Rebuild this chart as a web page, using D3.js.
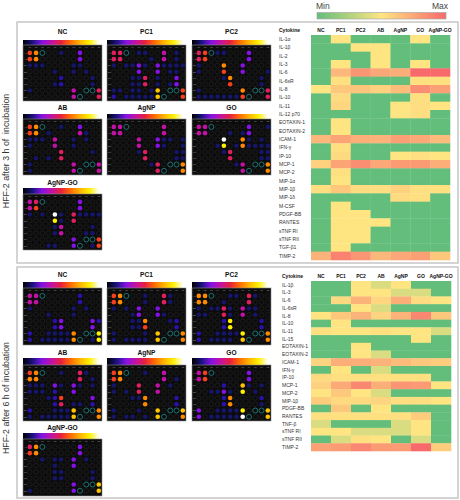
<!DOCTYPE html>
<html><head><meta charset="utf-8">
<script src="https://cdn.jsdelivr.net/npm/d3@7"></script>
<style>html,body{margin:0;padding:0;background:#fff}svg{display:block;font-family:"Liberation Sans",Arial,sans-serif}</style>
</head><body><div id="c"></div>
<script>
const treatments = ["NC","PC1","PC2","AB","AgNP","GO","AgNP-GO"];
const cytokines3h = ["IL-1α","IL-1β","IL-2","IL-3","IL-6","IL-6sR","IL-8","IL-10","IL-11","IL-12 p70","EOTAXIN-1","EOTAXIN-2","ICAM-1","IFN-γ","IP-10","MCP-1","MCP-2","MIP-1α","MIP-1β","MIP-1δ","M-CSF","PDGF-BB","RANTES","sTNF RI","sTNF RII","TGF-β1","TIMP-2"];
const values3h = [
[0,.5,0,0,0,.5,0],[0,0,.5,.5,0,0,0],[0,0,0,.5,0,0,0],[0,.5,0,.5,0,.5,0],
[0,.68,.82,.75,.72,1,1],[0,.52,0,0,0,.52,.52],[.5,.62,.63,.58,.66,.85,.78],[0,.54,0,0,0,.52,0],
[0,.56,0,0,.5,.53,.5],[0,0,0,0,.5,.53,0],[0,.5,0,0,0,0,0],[0,.5,0,0,0,0,0],
[.68,.76,.72,.7,.78,.74,.67],[0,.52,0,0,0,0,0],[0,.55,0,0,.5,.52,.5],[.58,.76,.85,.75,.8,.8,.72],
[0,.52,0,0,0,0,0],[0,.5,0,0,0,0,0],[.53,.62,.54,.53,.58,.52,.52],[0,0,0,0,.54,.52,0],
[0,.5,0,0,0,0,0],[0,.5,.5,0,0,0,0],[0,.5,.5,.5,0,0,0],[0,.5,.5,0,0,0,0],[0,.5,.5,0,0,0,0],
[0,.5,0,0,0,0,0],[.7,.9,.82,.68,.75,.78,.62]];
const cytokines6h = ["IL-1β","IL-3","IL-6","IL-6sR","IL-8","IL-10","IL-11","IL-15","EOTAXIN-1","EOTAXIN-2","ICAM-1","IFN-γ","IP-10","MCP-1","MCP-2","MIP-1β","PDGF-BB","RANTES","TNF-β","sTNF RI","sTNF RII","TIMP-2"];
const values6h = [
[0,0,.5,.38,.5,0,0],[0,0,.5,.5,.38,.38,0],[0,.55,.7,.56,.72,.54,.5],[0,0,.5,.38,0,0,0],
[.5,.62,.7,.57,.7,.88,.62],[0,.5,0,0,0,0,0],[.52,.5,.5,.52,.5,.5,.38],[0,0,0,0,0,.5,0],
[0,0,.5,0,0,0,0],[0,0,.5,.38,0,0,0],[.57,.72,.72,.7,.67,.62,.6],[0,.5,0,.38,0,0,0],
[.55,.52,.52,.52,.52,.52,0],[.58,.74,.88,.72,.82,.8,.5],[.5,.62,.5,.38,0,0,0],[.6,.55,.55,.57,.53,.53,.5],
[0,.62,0,.5,0,0,0],[.52,.52,.52,.52,.52,.6,0],[.38,0,0,0,.38,.5,0],[.5,.5,.38,.38,.38,.5,0],
[0,.38,.52,.5,0,.38,0],[.78,.8,.88,.8,.8,1,.6]];
// membrane spots: one string per array row, one character per spot ('.' blank, 1-9/W intensity, T reference ring)
const blot3h = {
"NC":["67T..1..3...","67......3...","111....11...","....1..1.1..",".....2....1.","....12....1.","1......4.TT5",".......4T..5"],
"PC1":["55T.11..4.1.","55....1.4.1.","1.1131.31111","....3..3.11.","...115.1..3.","...115.1.13.","11.11.18.TT6","2.111118T..6"],
"PC2":["56T11...3...","56......3...","1...7..3....","1...6..3...1","....17....1.",".....6....1.","1......7.TT5","11111116T..5"],
"AB":["67T..1..3...","67.1....41..","111.4..1.1..","1...4..1....",".....5....1.",".1.1.5......","1......4.TT4","1......4T..4"],
"AgNP":["44T.....4...","44......4...","....4..311.1","....4..31..1","....15....11",".....5....11","......15.TT7",".......5T..7"],
"GO":["44T.....3..1","44...1.13...","....W..71.1.","...19.171111","....15....11",".....5....11","......14.TT7",".......4T..7"],
"AgNP-GO":["45T.....3...","46......3...","1.1.W1.51111","....91.5....","....14....1.","....14...11.",".......3.TT6","...11..3T.16"]};
const blot6h = {
"NC":["44T.....2...","44......2...","1......1.1..","...1...1....","....23....32","....23....3.","2..11117.TT9","2.111117T.19"],
"PC1":["67T..1..51..","67...1..51..","1.1.3..3....","...13..31...","...117...12.","...116....2.","1....1.8.TT7","1.1111.8T..7"],
"PC2":["77T..11.51..","77..1...5...","1.1151.411..","11..51.4.1..","....29....2.","....29....2.","2..11119.TT7","2.1111.8T..7"],
"AB":["67T..1..51..","77......5.1.","111.31.31.1.","111.2..3....","...126....3.","....25.11.2.","2...1118.TT7","1.111118T..7"],
"AgNP":["67T..1..4...","67......4.1.","1...5..4.1..","1.1.5..4....","...117....2.",".....7....2.","1...1..8.TT8","1.11.1.8T..7"],
"GO":["46T.....3...","46......3...","....2..81.1.","..1131.9.1..","....27....2.","....27....1.","3..11119.TT8","3.11111WT..8"],
"AgNP-GO":["57T.....3...","67......3...","..1.11.3.1..","....1..3....","....11....1.","....11....1.",".......3.TT8","1......3T..8"]};
const columnLabels = ["01","02","03","04","05","06","07","08","09","10","11","12"];
const rowLabels = ["A1","A2","B1","B2","C1","C2","D1","D2"];
const intensityKeys = ["1","2","3","4","5","6","7","8","9","W"];
const intensityColors = ["#15156a","#2a12a8","#8412e4","#c212a6","#e0205e","#f4401c","#ff8a00","#ffc400","#fff000","#ffffff"];
const fireStops = ["#000000","#1a1280","#8412e4","#c212a6","#e8203c","#ff6a00","#ffb400","#fff000","#ffffff"];
const heatStops = ["#63be7b","#fee582","#f8696b"];

const svg = d3.select("#c").append("svg").attr("width",460).attr("height",500);
const defs = svg.append("defs");
function grad(id,stops){
  defs.append("linearGradient").attr("id",id).selectAll("stop").data(stops).join("stop")
    .attr("offset",(d,i)=>i/(stops.length-1)).attr("stop-color",d=>d);
}
grad("fire",fireStops); grad("heat",heatStops);
const heatColor = d3.scaleLinear().domain([0,.5,1]).range(heatStops);
const spotColor = d3.scaleOrdinal().domain(intensityKeys).range(intensityColors);

// frames
svg.selectAll("rect.frame").data([[22,263],[267,498]]).join("rect").attr("class","frame")
  .attr("x",17).attr("y",d=>d[0]).attr("width",441).attr("height",d=>d[1]-d[0])
  .attr("fill","#fff").attr("stroke","#c2c2c2").attr("stroke-width",1.4);

// side labels
[["HFF-2 after 3 h of  incubation",151],["HFF-2 after 6 h of incubation",398]].forEach(([t,y])=>{
  svg.append("text").attr("transform",`translate(9,${y}) rotate(-90)`).attr("text-anchor","middle")
    .attr("font-size",8.8).attr("fill","#333").attr("xml:space","preserve").text(t);
});

// legend
svg.append("rect").attr("x",317).attr("y",12.5).attr("width",129).attr("height",6.5)
  .attr("fill","url(#heat)").attr("stroke","#aaa").attr("stroke-width",.7);
svg.append("text").attr("x",316).attr("y",8.5).attr("font-size",8.5).attr("fill","#444").text("Min");
svg.append("text").attr("x",448).attr("y",8.5).attr("text-anchor","end").attr("font-size",8.5).attr("fill","#444").text("Max");

const colX = d3.scalePoint().domain(columnLabels).range([6.8,75.8]);
const rowY = d3.scalePoint().domain(rowLabels).range([7.9,51.8]);
function drawBlot(name,rows,x,titleY,gradY,top,bottom){
  const w = 79;
  svg.append("text").attr("x",x+w/2).attr("y",titleY).attr("text-anchor","middle")
    .attr("font-size",6.6).attr("font-weight","bold").attr("fill","#111").text(name);
  svg.append("rect").attr("x",x).attr("y",gradY).attr("width",w-3).attr("height",top-gradY).attr("fill","url(#fire)");
  const g = svg.append("g").attr("transform",`translate(${x},${top})`);
  g.append("rect").attr("width",w).attr("height",bottom-top).attr("fill","#0c0c0c").attr("stroke","#8a8a8a").attr("stroke-width",.6);
  g.selectAll("text.c").data(columnLabels).join("text").attr("class","c")
    .attr("x",d=>colX(d)).attr("y",3.2).attr("text-anchor","middle").attr("font-size",2.4).attr("fill","#999").text(d=>d);
  g.selectAll("text.r").data(rowLabels).join("text").attr("class","r")
    .attr("x",1).attr("y",d=>rowY(d)+.8).attr("font-size",2.2).attr("fill","#999").text(d=>d);
  const spots = rows.flatMap((s,ri)=>columnLabels.map((c,ci)=>({c,r:rowLabels[ri],k:s[ci]})));
  g.selectAll("circle").data(spots).join("circle")
    .attr("cx",d=>colX(d.c)).attr("cy",d=>rowY(d.r)).attr("r",d=>d.k==="T"?2.5:2.3)
    .attr("fill",d=>(d.k==="."||d.k==="T")?"none":spotColor(d.k))
    .attr("stroke",d=>d.k==="T"?"#1f8a8c":(d.k==="."?"#2b2b2b":"none"))
    .attr("stroke-width",d=>d.k==="T"?.8:.5);
}
const slotX = [23,107,192];
const layout3h = [[34.4,40,45,101],[110,114,119,175],[184.6,188,194,250]];
const layout6h = [[277,282,288,345],[354.6,358,365,421],[429.6,433,439,496]];
[[blot3h,layout3h],[blot6h,layout6h]].forEach(([blot,lay])=>{
  treatments.forEach((t,i)=>{
    const row = Math.floor(i/3), col = i%3, L = lay[row];
    drawBlot(t,blot[t],slotX[col],L[0],L[1],L[2],L[3]);
  });
});

function drawHeat(names,vals,x0,x1,y0,y1,labelX,headY){
  const x = d3.scaleBand().domain(treatments).range([x0,x1]);
  const y = d3.scaleBand().domain(names).range([y0,y1]);
  svg.append("text").attr("x",labelX).attr("y",headY).attr("font-size",5).attr("font-weight","bold").attr("fill","#111").text("Cytokine");
  svg.selectAll(null).data(treatments).join("text")
    .attr("x",d=>x(d)+x.bandwidth()/2).attr("y",headY).attr("text-anchor","middle")
    .attr("font-size",5).attr("font-weight","bold").attr("fill","#111").text(d=>d);
  svg.selectAll(null).data(names).join("text")
    .attr("x",labelX).attr("y",d=>y(d)+y.bandwidth()/2+1.8).attr("font-size",5).attr("fill","#333").text(d=>d);
  const g = svg.append("g");
  names.forEach((n,ri)=>{
    g.selectAll(null).data(vals[ri].map((v,i)=>({t:treatments[i],v}))).join("rect")
      .attr("x",d=>x(d.t)).attr("y",y(n)).attr("width",x.bandwidth()+.3).attr("height",y.bandwidth()+.3)
      .attr("fill",d=>heatColor(d.v));
  });
}
drawHeat(cytokines3h,values3h,311,450,35,260,279,32);
drawHeat(cytokines6h,values6h,311,451,281,451,282,278);
</script></body></html>
